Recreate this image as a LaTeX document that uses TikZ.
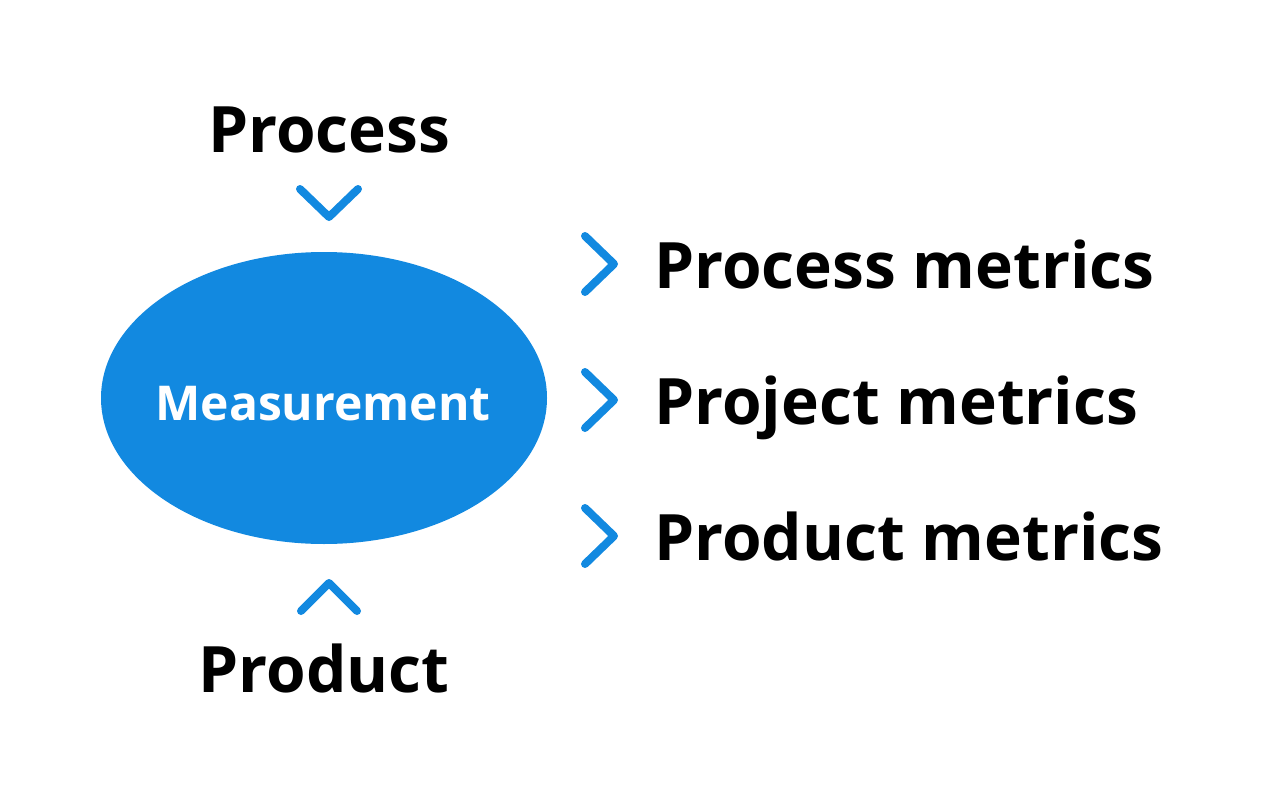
\documentclass[tikz,border=0pt]{standalone}
\usepackage{fontspec}
\setmainfont{Open Sans}
\usetikzlibrary{shapes.geometric}
\definecolor{mblue}{HTML}{1289E0}
\tikzset{
  big/.style={font=\fontsize{64}{72}\selectfont\bfseries, text=black, inner sep=0pt},
  chev/.style={draw=mblue, line width=8pt, line cap=round, line join=round},
}
\begin{document}
\begin{tikzpicture}[x=1pt,y=-1pt]
\useasboundingbox (0,0) rectangle (1280,800);
\node[ellipse, fill=mblue, minimum width=446pt, minimum height=292pt, inner sep=0pt] (meas) at (324,398) {};
\node[anchor=base, inner sep=0pt, text=white, font=\fontsize{48}{54}\selectfont\bfseries] (meastext) at (323,420) {Measurement};
\node[big, anchor=base] (process) at (329,152) {Process};
\node[big, anchor=base] (product) at (324,692) {Product};
\node[big, anchor=base west] (m1) at (654,288) {Process metrics};
\node[big, anchor=base west] (m2) at (654,424) {Project metrics};
\node[big, anchor=base west] (m3) at (654,560) {Product metrics};
% chevrons
\coordinate (ctop) at (329,217);
\coordinate (cbot) at (329,583);
\coordinate (c1) at (614,264);
\coordinate (c2) at (614,400);
\coordinate (c3) at (614,536);
\draw[chev] ([shift={(-29,-28)}]ctop) -- (ctop) -- ([shift={(29,-28)}]ctop);
\draw[chev] ([shift={(-28,28)}]cbot) -- (cbot) -- ([shift={(28,28)}]cbot);
\foreach \c in {c1,c2,c3}{
  \draw[chev] ([shift={(-29,-28)}]\c) -- (\c) -- ([shift={(-29,28)}]\c);
}
\end{tikzpicture}
\end{document}
